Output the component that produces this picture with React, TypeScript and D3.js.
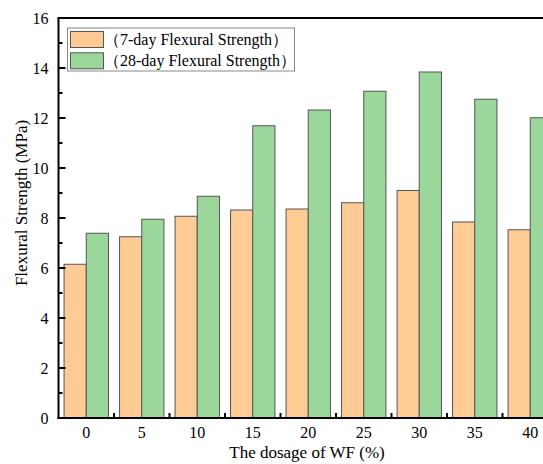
import React from "react";
import * as d3 from "d3";

const categories = ["0", "5", "10", "15", "20", "25", "30", "35", "40"];
const series7 = [6.15, 7.25, 8.07, 8.32, 8.36, 8.61, 9.1, 7.84, 7.53];
const series28 = [7.39, 7.95, 8.87, 11.69, 12.32, 13.07, 13.84, 12.75, 12.01];
const seriesNames = ["（7-day Flexural Strength）", "（28-day Flexural Strength）"];
const yTicks = [0, 2, 4, 6, 8, 10, 12, 14, 16];
const yMinorTicks = [1, 3, 5, 7, 9, 11, 13, 15];

const W = 543;
const H = 464;
const left = 58.5;
const top = 18;
const bottom = 418;
const step = 55.5;
const colors = ["#FDCB93", "#9BD69B"];
const font = "'Liberation Serif', 'Times New Roman', serif";

export default function App() {
  const x = d3
    .scaleBand<string>()
    .domain(categories)
    .range([left, left + step * categories.length])
    .paddingInner(0.2)
    .paddingOuter(0.1);
  const sub = d3.scaleBand<number>().domain([0, 1]).range([0, x.bandwidth()]);
  const y = d3.scaleLinear().domain([0, 16]).range([bottom, top]);
  const all = [series7, series28];
  const right = left + step * categories.length;

  return (
    <svg
      width={W}
      height={H}
      style={{ position: "absolute", left: 0, top: 0, background: "#fff" }}
      fontFamily={font}
    >
      <rect x={0} y={0} width={W} height={H} fill="#fff" />
      {categories.map((c, i) =>
        all.map((s, k) => (
          <rect
            key={c + "-" + k}
            x={(x(c) as number) + (sub(k) as number)}
            y={y(s[i])}
            width={sub.bandwidth()}
            height={bottom - y(s[i])}
            fill={colors[k]}
            stroke="#555"
            strokeWidth={1}
          />
        ))
      )}
      <line x1={left} x2={left} y1={top} y2={bottom + 1} stroke="#000" strokeWidth={2} />
      <line x1={left - 1} x2={right} y1={bottom} y2={bottom} stroke="#000" strokeWidth={2} />
      <line x1={left - 1} x2={right} y1={top} y2={top} stroke="#000" strokeWidth={2} />
      {yTicks.map((t) => (
        <g key={"yt" + t}>
          <line x1={left} x2={left + 7} y1={y(t)} y2={y(t)} stroke="#000" strokeWidth={2} />
          <text x={left - 10} y={y(t)} dy="0.35em" textAnchor="end" fontSize={16} fill="#000">
            {t}
          </text>
        </g>
      ))}
      {yMinorTicks.map((t) => (
        <line key={"ym" + t} x1={left} x2={left + 4} y1={y(t)} y2={y(t)} stroke="#000" strokeWidth={2} />
      ))}
      {categories.slice(1).map((c) => {
        const bx = (x(c) as number) - step * 0.1;
        return <line key={"xt" + c} x1={bx} x2={bx} y1={bottom} y2={bottom - 5} stroke="#000" strokeWidth={2} />;
      })}
      {categories.map((c) => (
        <text
          key={"xl" + c}
          x={(x(c) as number) + x.bandwidth() / 2}
          y={438}
          textAnchor="middle"
          fontSize={16}
          fill="#000"
        >
          {c}
        </text>
      ))}
      <text x={307} y={458} textAnchor="middle" fontSize={17} fill="#000">
        The dosage of WF (%)
      </text>
      <text transform={`translate(27,203) rotate(-90)`} textAnchor="middle" fontSize={17} fill="#000">
        Flexural Strength (MPa)
      </text>
      <rect x={67.5} y={28} width={227} height={43} fill="#fff" stroke="#888" strokeWidth={1} />
      {seriesNames.map((n, k) => (
        <g key={"lg" + k}>
          <rect x={70.5} y={31.5 + k * 21.3} width={33} height={16} fill={colors[k]} stroke="#555" strokeWidth={1} />
          <text x={104} y={45 + k * 21.3} fontSize={16} fill="#000">
            {n}
          </text>
        </g>
      ))}
    </svg>
  );
}
